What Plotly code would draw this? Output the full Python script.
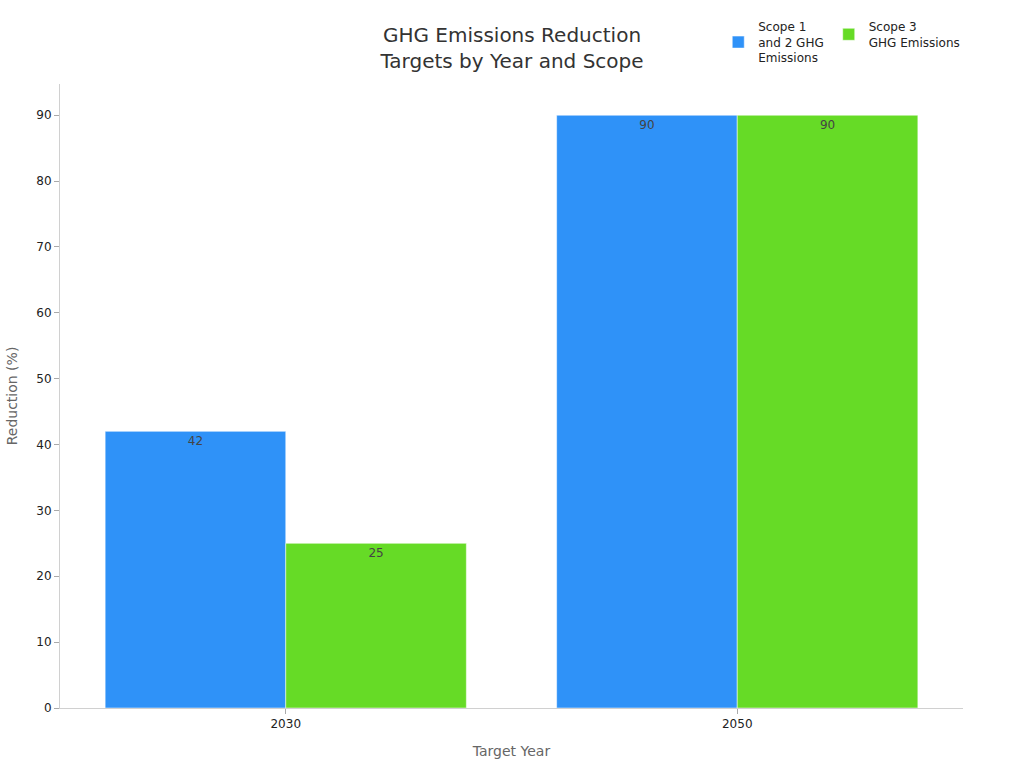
import plotly.graph_objects as go

years = ["2030", "2050"]
scope12 = [42, 90]
scope3 = [25, 90]
series_names = ["Scope 1<br>and 2 GHG<br>Emissions", "Scope 3<br>GHG Emissions"]
colors = ["#2f92f8", "#66db26"]

fig = go.Figure()
for name, vals, col in zip(series_names, [scope12, scope3], colors):
    fig.add_trace(go.Bar(
        x=years, y=vals, name=name,
        marker=dict(color=col, line=dict(color="rgba(255,255,255,0.5)", width=1)),
        text=vals, textposition="inside", insidetextanchor="end",
        textfont=dict(color="#444444", size=12),
    ))

fig.update_layout(
    width=1024, height=768,
    font=dict(family="DejaVu Sans", color="#222222", size=12),
    title=dict(text="GHG Emissions Reduction<br>Targets by Year and Scope",
               x=0.5, xanchor="center", y=0.945, yanchor="top",
               font=dict(size=20, color="#333333")),
    barmode="group", bargap=0.2, bargroupgap=0,
    plot_bgcolor="white", paper_bgcolor="white",
    margin=dict(l=60, r=61, t=84, b=60, autoexpand=False),
    legend=dict(orientation="h", x=1.0025, xanchor="right", y=1.067, yanchor="middle",
                font=dict(size=12, color="#222222")),
    xaxis=dict(type="category", showline=True, linecolor="#d0d0d0", linewidth=1,
               ticks="outside", tickcolor="#aaaaaa", ticklen=5,
               title=dict(text="Target Year", font=dict(size=14, color="#666666"))),
    yaxis=dict(showline=True, linecolor="#d0d0d0", linewidth=1, showgrid=False,
               zeroline=False, range=[0, 94.74], dtick=10,
               ticks="outside", tickcolor="#aaaaaa", ticklen=5,
               title=dict(text="Reduction (%)", font=dict(size=14, color="#666666"))),
    uniformtext=dict(minsize=8, mode="show"),
)

fig.write_html("out.html")
